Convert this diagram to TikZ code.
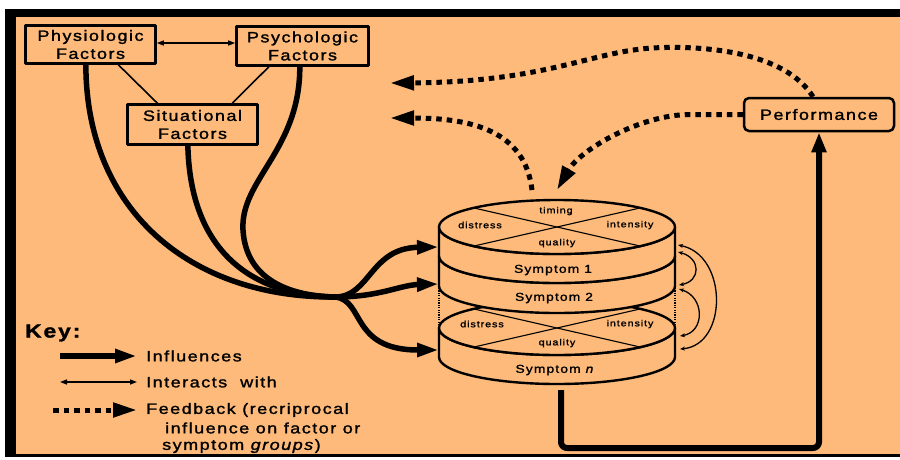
\documentclass[tikz,border=0pt]{standalone}
\usepackage{fontspec}
\setmainfont{Liberation Sans}[FakeStretch=1.2,LetterSpace=10,FakeBold=1.5]
\usetikzlibrary{arrows.meta,calc}
\definecolor{bgorange}{RGB}{253,186,122}
\begin{document}
\begin{tikzpicture}[x=1pt,y=-1pt,line join=round,
  box/.style={draw,line width=2.6pt,fill=bgorange,align=center,inner sep=0pt,font=\fontsize{15}{18}\selectfont},
  infl/.style={line width=5.5pt,-{Triangle[length=22pt,width=13pt]}},
  inflplain/.style={line width=5.5pt},
  inter/.style={line width=1.4pt,{Triangle[length=7pt,width=5pt]}-{Triangle[length=7pt,width=5pt]}},
  interarc/.style={line width=1.3pt,{Stealth[length=5pt,width=4pt]}-{Stealth[length=5pt,width=4pt]}},
  fb/.style={line width=5pt,dash pattern=on 5.5pt off 5pt,-{Triangle[length=24pt,width=14pt]}},
  disk/.style={draw,line width=2.4pt,fill=bgorange},
  xline/.style={line width=1.1pt},
  edgedots/.style={line width=2pt,dash pattern=on 1.2pt off 1.2pt},
  disklabel/.style={font=\fontsize{9}{10}\selectfont,inner sep=0pt},
  symlabel/.style={font=\fontsize{11.5}{13}\selectfont,inner sep=0pt},
  keytext/.style={font=\fontsize{15}{17}\selectfont,anchor=west,inner sep=0pt},
]
\useasboundingbox (0,0) rectangle (900,459);
\fill[white] (0,0) rectangle (900,459);
\fill[black] (5,9) rectangle (900,457);
\fill[bgorange] (16,17) rectangle (900,454);

% factor boxes
\node[box,minimum width=130pt,minimum height=38pt] (phys) at (90.5,44.5) {Physiologic\\Factors};
\node[box,minimum width=132pt,minimum height=39pt] (psych) at (302.5,46) {Psychologic\\Factors};
\node[box,minimum width=130pt,minimum height=40pt] (sit) at (192.5,124.5) {Situational\\Factors};

\draw[inter] ([yshift=1.5pt]phys.east) -- ([yshift=1.5pt]phys.east -| psych.west);
\draw[line width=1.6pt] ($(phys.south west)!0.71!(phys.south east)$) -- ($(sit.north west)!0.235!(sit.north east)$);
\draw[line width=1.6pt] ($(psych.south west)!0.25!(psych.south east)$) -- ($(sit.north west)!0.8!(sit.north east)$);

% disks
\coordinate (s1in) at (439,247);
\coordinate (s2in) at (439,284);
\coordinate (snin) at (439,350);
% disk n
\filldraw[disk] (439,328) -- (439,357) arc[start angle=180,end angle=360,x radius=118pt,y radius=27pt] -- (675,328) arc[start angle=0,end angle=-180,x radius=118pt,y radius=27pt] -- cycle;
\filldraw[disk] (557,328) ellipse[x radius=118pt,y radius=27pt];
\draw[xline] (473.6,308.9) -- (640.4,347.1);
\draw[xline] (473.6,347.1) -- (640.4,308.9);
\node[disklabel] (ndis) at (482,324) {distress};
\node[disklabel] (nint) at (630,324) {intensity};
\node[disklabel] (nqual) at (557,343) {quality};
\node[symlabel] (symn) at (555,370) {Symptom \textit{n}};
% disk 2
\filldraw[disk] (439,256) -- (439,286) arc[start angle=180,end angle=360,x radius=118pt,y radius=27pt] -- (675,256) arc[start angle=0,end angle=-180,x radius=118pt,y radius=27pt] -- cycle;
\node[symlabel] (sym2) at (554,298) {Symptom 2};
% disk 1
\filldraw[disk] (439,227) -- (439,256) arc[start angle=180,end angle=360,x radius=118pt,y radius=27pt] -- (675,227) arc[start angle=0,end angle=-180,x radius=118pt,y radius=27pt] -- cycle;
\filldraw[disk] (557,227) ellipse[x radius=118pt,y radius=27pt];
\draw[xline] (473.6,207.9) -- (640.4,246.1);
\draw[xline] (473.6,246.1) -- (640.4,207.9);
\node[disklabel] (ttim) at (556,211) {timing};
\node[disklabel] (tdis) at (480,225) {distress};
\node[disklabel] (tint) at (630,225) {intensity};
\node[disklabel] (tqual) at (557,243) {quality};
\node[symlabel] (sym1) at (553,270) {Symptom 1};

\draw[edgedots] (439,288) -- (439,326);
\draw[edgedots] (675,288) -- (675,326);

% interactions among symptoms
\coordinate (a1) at (678,245); \coordinate (a2) at (680,349);
\coordinate (b1) at (678,252); \coordinate (b2) at (679,285);
\coordinate (c1) at (679,289); \coordinate (c2) at (680,336);
\draw[interarc] (a1) .. controls (728,255) and (728,345) .. (a2);
\draw[interarc] (b1) .. controls (701,258) and (701,281) .. (b2);
\draw[interarc] (c1) .. controls (705,297) and (705,332) .. (c2);

% influences
\coordinate (J) at (335,297);
\draw[inflplain] ($(phys.south west)!0.465!(phys.south east)$) .. controls (86,210) and (190,298) .. (J);
\draw[inflplain] ($(sit.south west)!0.465!(sit.south east)$) .. controls (190,240) and (240,295) .. (J);
\draw[inflplain] ($(psych.south west)!0.48!(psych.south east)$) .. controls (300,150) and (240,180) .. (243,230) .. controls (246,280) and (290,296) .. (J);
\draw[infl] (J) .. controls (370,297) and (370,248) .. (s1in);
\draw[infl] (J) .. controls (380,297) and (400,285) .. (s2in);
\draw[infl] (J) .. controls (365,300) and (350,350) .. (snin);

% performance
\node[draw,line width=2.5pt,rounded corners=5pt,fill=bgorange,minimum width=150pt,minimum height=33pt,inner sep=0pt,font=\fontsize{15}{17}\selectfont] (perf) at (819,114.5) {Performance};
\coordinate (snbot) at (561,390);
\draw[line width=6pt,rounded corners=6pt,-{Triangle[length=20pt,width=14pt]}] (snbot) -- (561,448) -- (819,448) -- (perf.south);

% feedback
\coordinate (fb1end) at (390,83);
\coordinate (fb2end) at (390,118);
\coordinate (s1top) at (532,190);
\coordinate (s1fb) at (557,190);
\draw[fb] ([xshift=-6pt]perf.north) .. controls (785,52) and (705,45) .. (652,48) .. controls (590,52) and (545,82) .. (fb1end);
\draw[fb] (s1top) .. controls (525,130) and (470,118) .. (fb2end);
\draw[fb] (perf.west) -- (690,114.5) .. controls (640,114.5) and (580,150) .. (s1fb);

% key
\node[font=\fontsize{19}{21}\selectfont\bfseries,anchor=west,inner sep=0pt] (key) at (25,333) {Key:};
\coordinate (k1a) at (60,356); \coordinate (k1b) at (137,356);
\coordinate (k2a) at (60,382); \coordinate (k2b) at (137,382);
\coordinate (k3a) at (53,410); \coordinate (k3b) at (137,410);
\draw[infl] (k1a) -- (k1b);
\draw[inter] (k2a) -- (k2b);
\draw[fb] (k3a) -- (k3b);
\node[keytext] (t1) at (146,356) {Influences};
\node[keytext] (t2) at (146,382) {Interacts\ \ with};
\node[keytext] (t3) at (146,410) {Feedback (recriprocal};
\node[keytext] (t4) at (165,428) {influence on factor or};
\node[keytext] (t5) at (162,446) {symptom \textit{groups})};
\end{tikzpicture}
\end{document}
